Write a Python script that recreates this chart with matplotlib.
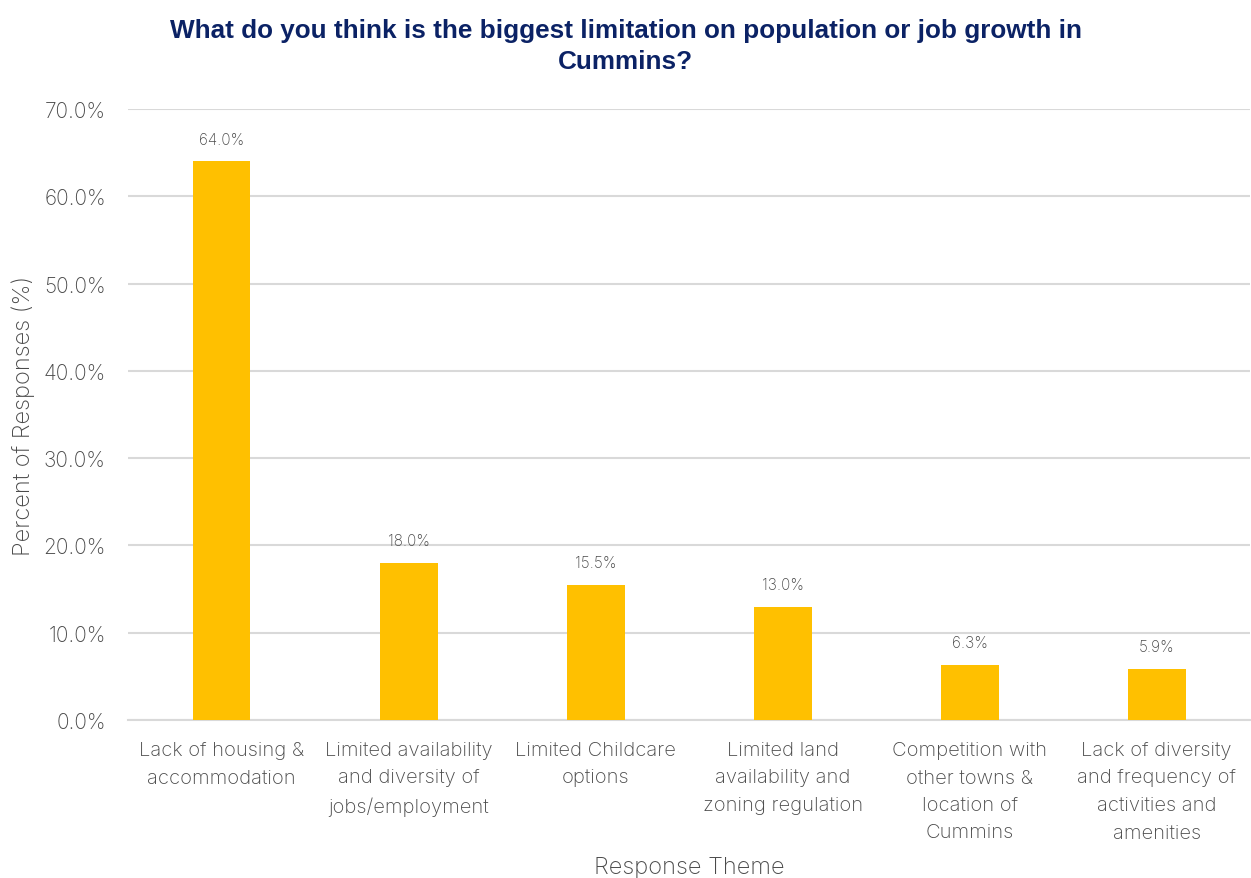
import matplotlib
matplotlib.use("Agg")
import matplotlib.pyplot as plt
from matplotlib.ticker import PercentFormatter

# Survey results
themes = [
    "Lack of housing &\naccommodation",
    "Limited availability\nand diversity of\njobs/employment",
    "Limited Childcare\noptions",
    "Limited land\navailability and\nzoning regulation",
    "Competition with\nother towns &\nlocation of\nCummins",
    "Lack of diversity\nand frequency of\nactivities and\namenities",
]
percent = [64.0, 18.0, 15.5, 13.0, 6.3, 5.9]

plt.rcParams["font.family"] = ["Inter", "DejaVu Sans"]
text_grey = "#4a4a4a"

fig = plt.figure(figsize=(12.51, 8.79), dpi=100)
ax = fig.add_axes([0.1023, 0.1797, 0.897, 0.6952])

x = range(len(themes))
bars = ax.bar(x, percent, width=0.31, color="#FFC000", zorder=3)
for b, v in zip(bars, percent):
    ax.text(b.get_x() + b.get_width() / 2, v + 1.7, f"{v:.1f}%",
            ha="center", va="bottom", fontsize=11, color=text_grey,
            fontweight="light")

ax.set_xlim(-0.5, len(themes) - 0.5)
ax.set_ylim(0, 70)
ax.set_yticks(range(0, 71, 10))
ax.yaxis.set_major_formatter(PercentFormatter(decimals=1))
ax.set_xticks(list(x))
ax.set_xticklabels(themes, fontsize=14.5, color=text_grey, fontweight="light",
                   linespacing=1.68)
ax.tick_params(axis="y", labelsize=15, labelcolor=text_grey, length=0, pad=16)
ax.tick_params(axis="x", length=0, pad=15)
for lbl in ax.get_yticklabels():
    lbl.set_fontweight("light")

ax.grid(axis="y", color="#d9d9d9", linewidth=1.5, zorder=0)
for s in ["top", "right", "left"]:
    ax.spines[s].set_visible(False)
ax.spines["bottom"].set_color("#d9d9d9")
ax.spines["bottom"].set_linewidth(1.5)

ax.set_ylabel("Percent of Responses (%)", fontsize=17, color=text_grey,
              fontweight="light", labelpad=6)
ax.set_xlabel("Response Theme", fontsize=17, color=text_grey,
              fontweight="light")
ax.xaxis.set_label_coords(0.5, -0.222)

fig.text(0.5, 0.947, "What do you think is the biggest limitation on population or job growth in\nCummins?",
         ha="center", va="center", fontsize=18.8, fontweight="bold",
         color="#0B2265", family=["Liberation Sans", "DejaVu Sans"],
         linespacing=1.4)

fig.savefig("out.png", dpi=100)
